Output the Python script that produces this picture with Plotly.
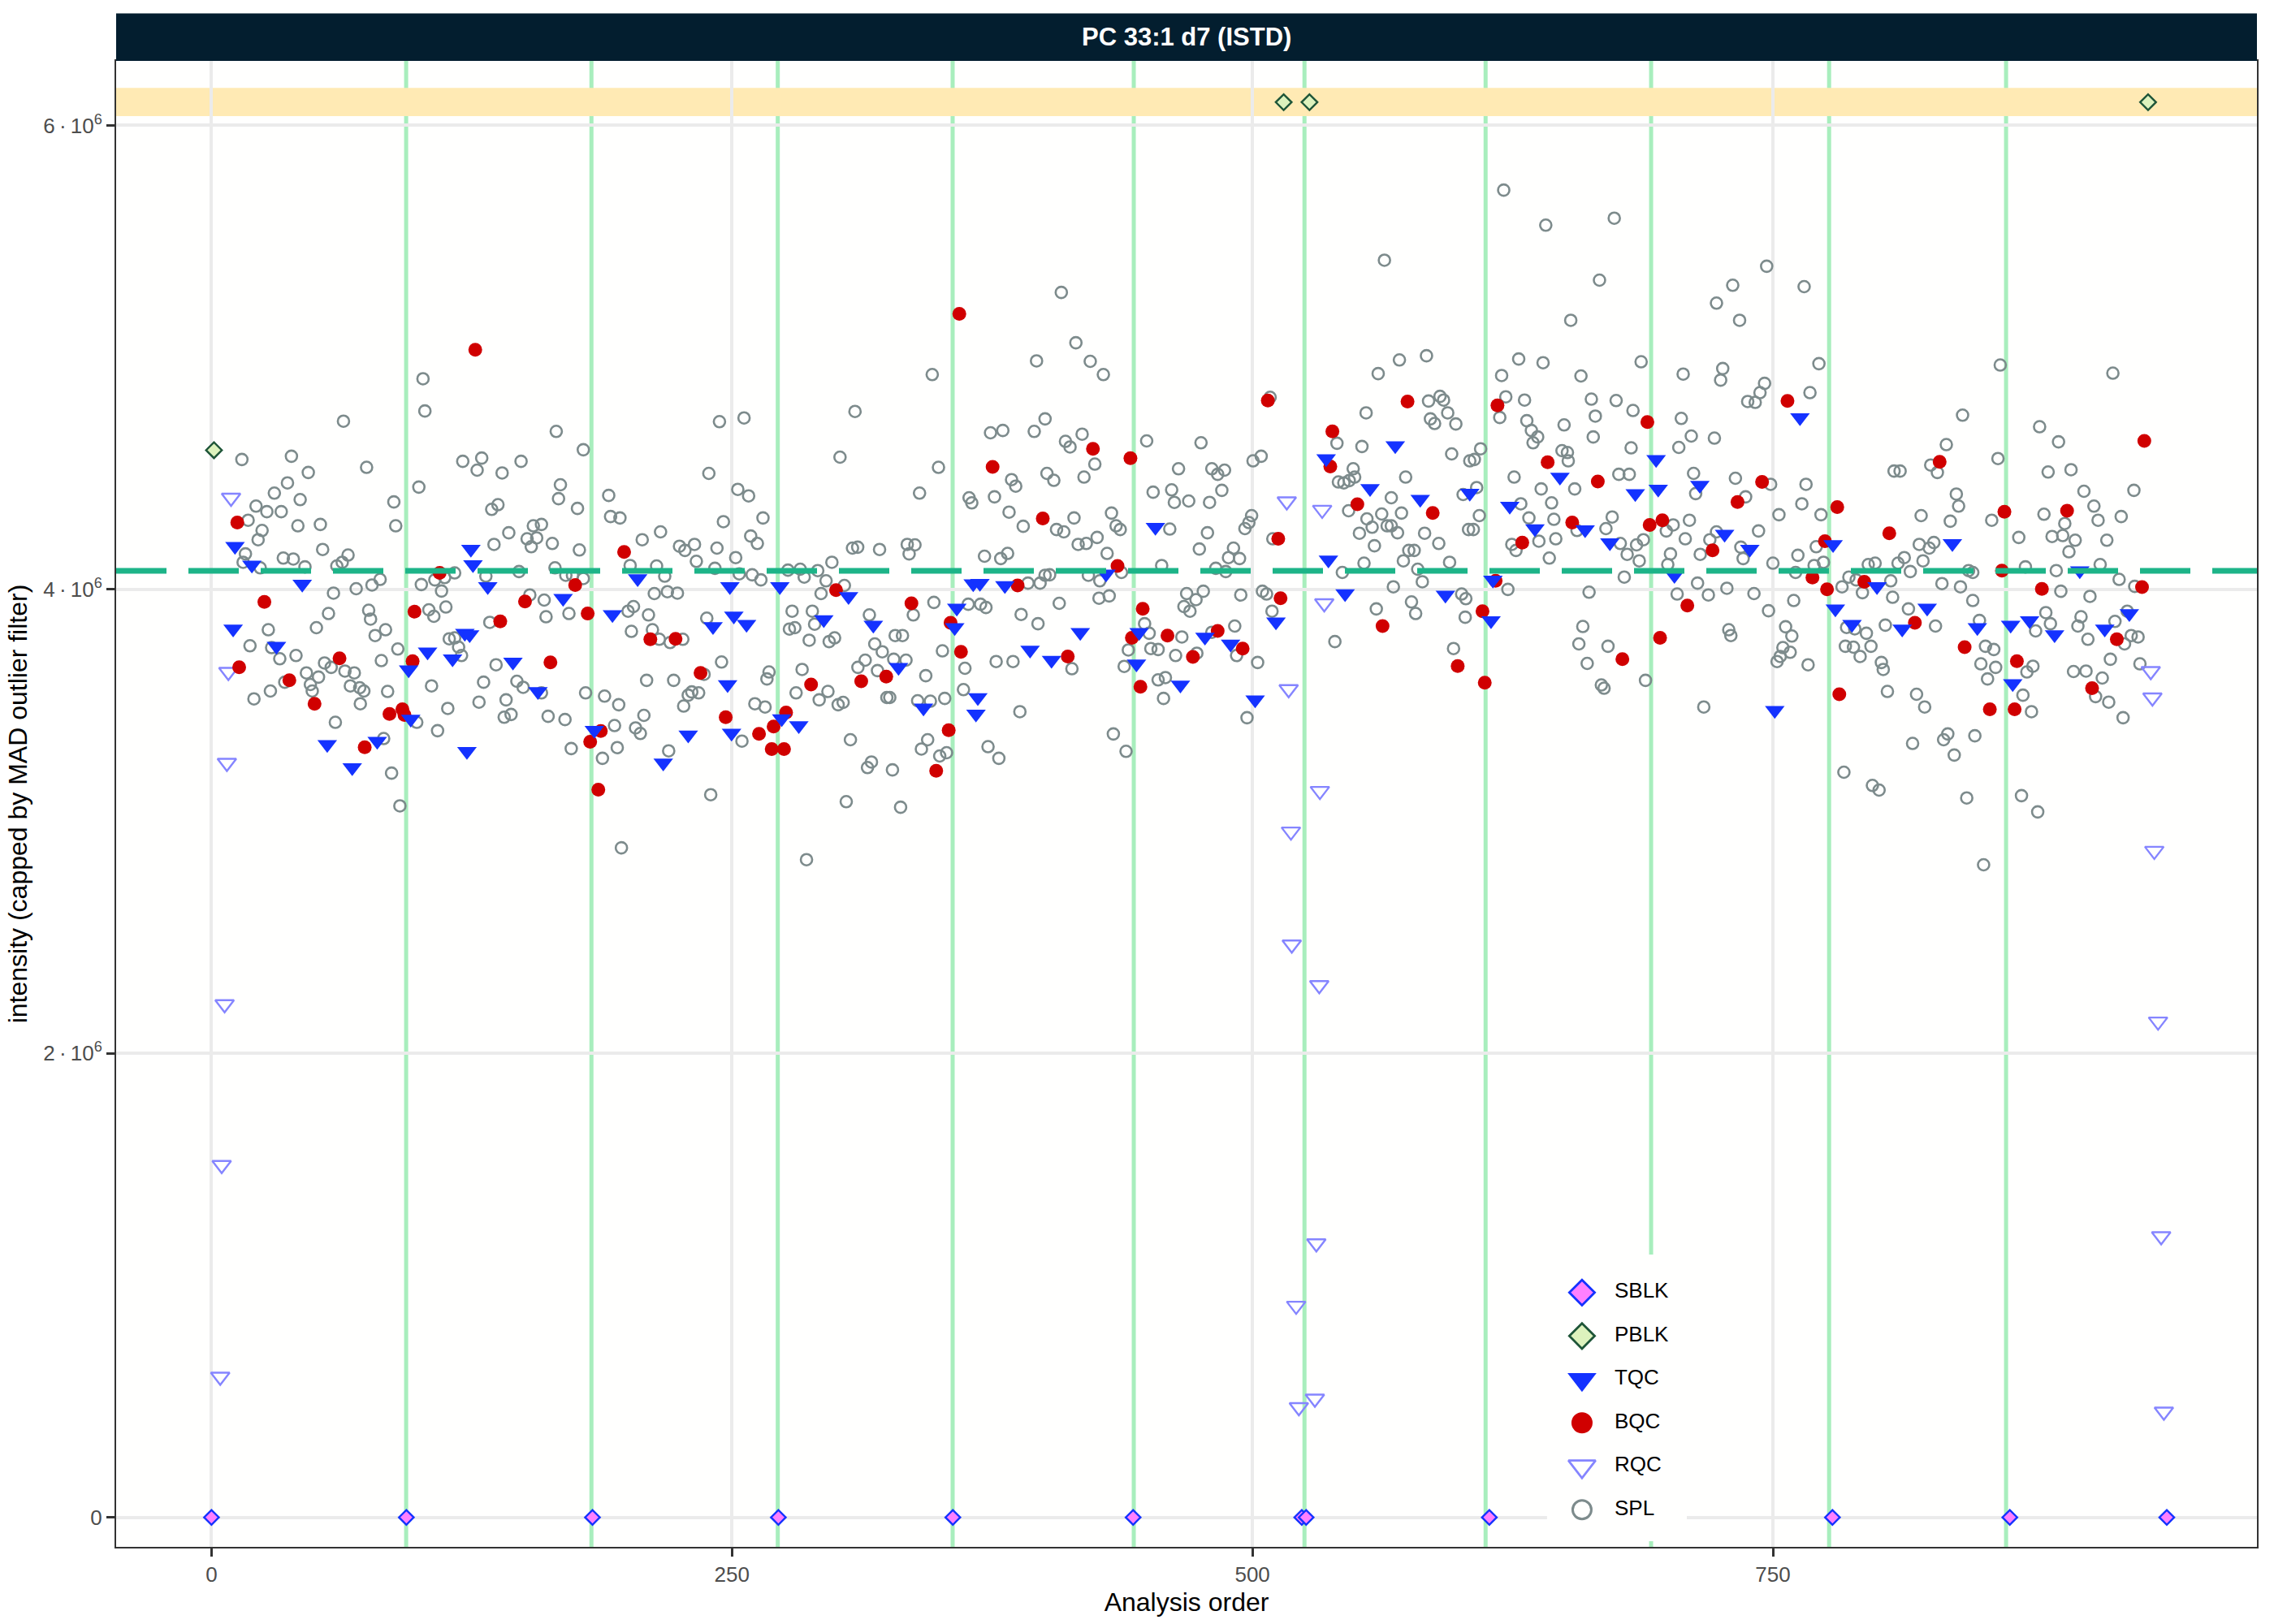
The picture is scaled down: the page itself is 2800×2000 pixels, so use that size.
import numpy as np
import plotly.graph_objects as go

# intensities are written in millions and scaled once below
MILLION = 1e6

spl_x = [
    14.6, 38.4, 46.5, 63.4, 74.5, 36.5, 30.2, 42.6, 21.4, 26.6, 33.5, 17.6, 24.3, 22.4, 41.5, 52.3,
    53.4, 65.6, 16.3, 15.2, 23.4, 34.5, 39.3, 44.9, 60.2, 62.8, 58.6, 69.5, 77.1, 81.0, 75.5, 76.4,
    56.2, 50.4, 27.3, 18.5, 28.9, 32.8, 40.6, 83.6, 78.6, 81.6, 89.5, 87.6, 88.5, 99.6, 101.6, 102.5,
    54.3, 57.5, 45.6, 51.4, 47.5, 48.4, 35.2, 28.3, 20.4, 64.1, 68.6, 66.7, 71.2, 73.2, 71.5, 59.5,
    84.6, 82.7, 86.5, 90.5, 98.6, 105.7, 108.6, 113.5, 100.8, 107.3, 112.0, 116.8, 110.5, 104.4, 106.8, 112.6,
    114.2, 116.8, 118.7, 120.1, 120.7, 127.6, 129.8, 139.6, 148.7, 134.6, 137.6, 135.7, 142.8, 131.8, 147.7, 151.6,
    154.6, 158.5, 156.2, 153.6, 163.7, 165.6, 167.6, 166.7, 175.8, 178.6, 176.7, 165.0, 170.2, 173.4, 178.6, 152.9,
    159.8, 160.7, 171.7, 133.7, 136.7, 130.7, 128.5, 141.5, 140.6, 143.9, 146.7, 149.7, 158.5, 161.7, 169.8, 172.8,
    179.7, 188.8, 195.6, 193.6, 194.9, 187.8, 190.8, 191.7, 196.2, 196.9,
    206.9, 215.7, 224.8, 227.4, 232.0, 232.9, 242.8, 245.9, 238.9, 244.0, 255.8, 252.8, 258.0, 264.9, 259.0, 262.2,
    251.8, 241.8, 253.5, 259.7, 263.9, 276.9, 282.8, 284.7, 291.2, 295.2, 298.0, 292.8, 304.0, 201.1, 213.8, 217.7,
    212.7, 219.0, 223.8, 202.7, 200.1, 209.9, 201.7, 211.8, 215.1, 220.3, 226.4, 237.9, 245.0, 236.6, 234.0, 230.7,
    229.0, 226.8, 222.0, 209.0, 207.7, 203.7, 206.0, 219.6, 239.8, 254.8, 261.0, 265.9, 266.8, 267.8, 278.9, 277.6,
    280.2, 288.6, 289.7, 287.1, 296.7, 299.3, 283.7, 280.8, 291.9, 296.1, 301.0, 303.4, 285.8, 306.9, 304.9, 315.1,
    317.0, 327.1, 331.0, 325.8, 324.4, 310.5, 314.0, 319.9, 322.2, 318.6, 316.0, 328.4, 331.9, 333.6, 327.7, 337.1,
    347.0, 343.1, 339.2, 345.3, 352.2, 351.1, 344.0, 341.0, 349.8, 353.1, 361.2, 361.9, 363.5, 369.4, 372.0, 373.0,
    378.2, 376.9, 385.0, 388.3, 388.9, 397.0, 392.2, 398.0, 400.4, 301.9, 309.1, 307.9, 310.4, 320.9, 334.2, 337.9,
    335.1, 340.1, 346.2, 349.2, 363.9, 365.2, 374.2, 380.1, 376.1, 384.3, 386.3, 383.1, 389.9, 371.3, 379.1, 382.4,
    396.3, 395.2, 400.4, 401.3,
    408.2, 415.2, 422.1, 428.4, 410.2, 412.4, 418.2, 424.3, 419.1, 404.6, 414.3, 405.9, 409.4, 416.3, 420.2, 425.4,
    432.3, 434.5, 436.5, 430.2, 421.2, 426.7, 402.6, 437.1, 426.3, 431.2, 407.2, 413.3, 433.2, 439.3, 438.4, 440.4,
    448.2, 450.4, 451.2, 454.7, 454.7, 458.2, 457.3, 463.1, 466.1, 467.1, 470.0, 468.4, 472.9, 476.4, 473.3, 480.5,
    491.5, 492.4, 502.5, 497.4, 494.4, 504.8, 506.8, 509.4, 449.2, 452.3, 461.2, 462.5, 469.4, 464.5, 475.3, 480.5,
    483.3, 486.6, 485.3, 479.4, 460.3, 456.4, 474.5, 478.4, 482.4, 487.2, 488.5, 490.9, 493.8, 496.4, 498.3, 499.6,
    500.3, 504.2, 508.5, 509.8, 539.6, 540.6, 543.2, 541.3, 543.9, 546.5, 548.4, 549.1, 546.2, 552.6, 554.6, 560.4,
    563.4, 570.6, 583.6, 584.6, 590.1, 591.8, 593.8, 597.7, 585.5, 587.5, 595.7, 573.6, 566.7, 562.1, 555.0, 557.5,
    551.4, 558.6, 564.7, 566.7, 569.7, 571.6, 582.7, 589.5, 572.5, 575.1, 577.7, 579.4, 581.6, 553.6, 567.7, 559.5,
    576.4, 578.4, 594.7, 600.5, 602.5, 602.2, 596.6, 601.2, 603.8, 604.4,
    620.7, 640.9, 673.8, 666.7, 652.9, 747.0, 765.0, 730.7, 722.9, 734.0, 627.9, 639.6, 619.7, 657.8, 686.7, 706.9,
    725.9, 724.9, 772.1, 746.0, 743.8, 741.5, 737.9, 767.8, 621.7, 618.8, 630.7, 631.8, 634.0, 637.0, 634.8, 649.7,
    662.8, 664.7, 663.7, 674.7, 682.8, 681.9, 706.0, 710.8, 704.8, 721.9, 609.6, 606.6, 607.7, 609.0, 606.1, 625.7,
    648.7, 651.3, 651.7, 638.7, 643.7, 628.9, 632.8, 644.8, 637.6, 645.7, 624.6, 626.6, 642.6, 654.8, 655.9, 669.8,
    672.8, 676.0, 681.0, 676.7, 680.0, 684.5, 687.8, 685.8, 678.6, 622.7, 661.7, 658.7, 656.8, 660.8, 670.8, 667.6,
    668.9, 688.8, 716.8, 698.8, 702.1, 709.9, 700.8, 699.5, 707.9, 711.9, 712.9, 704.0, 713.8, 715.1, 719.7, 722.9,
    719.0, 727.9, 732.0, 736.9, 734.6, 735.7, 743.1, 748.9, 752.9, 750.0, 740.9, 728.8, 729.8, 747.9, 756.1, 759.1,
    754.8, 758.3, 753.5, 752.0, 766.9, 760.0, 760.9, 762.0, 763.9, 765.9, 773.1, 770.8, 769.8, 774.3, 783.2, 786.5,
    790.0, 793.0, 795.8, 799.1, 806.6, 807.5, 804.0, 785.4, 789.3, 794.9, 784.8, 788.7, 797.1, 791.9, 802.1, 803.0,
    805.0, 784.1, 797.8, 801.0, 808.2,
    811.1, 825.8, 829.0, 833.3, 841.1, 838.1, 839.2, 835.2, 821.2, 820.3, 825.1, 827.3, 822.1, 813.1, 810.1, 816.0,
    815.1, 828.1, 831.2, 840.1, 844.0, 846.0, 846.0, 849.2, 852.1, 856.1, 849.9, 857.0, 853.1, 819.0, 822.9, 817.1,
    832.0, 834.0, 837.1, 847.0, 843.1, 851.2, 869.4, 877.2, 859.2, 858.1, 855.1, 868.1, 871.3, 878.1, 887.2, 882.2,
    893.2, 899.4, 904.2, 906.2, 880.2, 890.2, 884.1, 889.2, 895.2, 892.2, 886.1, 888.3, 907.2, 910.4, 913.3, 917.3,
    923.4, 916.3, 923.8, 902.3, 881.1, 883.3, 876.2, 874.9, 872.0, 870.1, 874.2, 898.0, 896.5, 901.3, 914.3, 920.2,
    918.9, 922.1, 925.4, 912.1, 926.3, 894.4, 900.4, 908.2, 905.0, 911.3, 918.2,
]
spl_y = [
    4.560, 4.574, 4.504, 4.725, 4.526, 4.459, 4.415, 4.387, 4.359, 4.335, 4.335, 4.298, 4.254, 4.214, 4.274, 4.280,
    4.172, 4.148, 4.153, 4.117, 4.093, 4.135, 4.131, 4.097, 4.101, 4.117, 3.984, 4.003, 4.019, 4.043, 3.910, 3.872,
    3.896, 3.835, 3.826, 3.757, 3.749, 3.701, 3.715, 3.826, 3.801, 3.693, 3.743, 4.377, 4.274, 4.441, 4.908, 4.769,
    3.683, 3.664, 3.640, 3.622, 3.590, 3.562, 3.600, 3.562, 3.528, 3.648, 3.640, 3.584, 3.576, 3.562, 3.507, 3.427,
    3.560, 3.357, 3.208, 3.067, 3.427, 3.584, 3.391, 3.487, 4.021, 4.041, 4.051, 4.071, 3.993, 3.912, 3.884, 3.924,
    3.787, 3.791, 3.751, 3.715, 4.552, 4.514, 4.566, 4.502, 4.552, 4.345, 4.365, 4.194, 4.244, 4.057, 4.077, 4.218,
    4.274, 4.280, 4.222, 4.184, 4.198, 4.681, 4.451, 4.391, 4.349, 4.602, 4.170, 4.093, 4.061, 4.061, 4.047, 3.976,
    3.954, 3.882, 3.896, 3.858, 3.675, 3.600, 3.514, 3.524, 3.449, 3.461, 3.604, 3.578, 3.554, 3.453, 3.439, 3.314,
    3.554, 3.540, 3.503, 3.413, 3.318, 3.272, 4.405, 4.314, 4.308, 2.886,
    4.214, 4.248, 4.186, 4.168, 4.194, 4.121, 4.178, 4.292, 4.500, 4.723, 4.739, 4.431, 4.403, 4.308, 4.230, 4.198,
    4.137, 4.091, 4.067, 4.063, 4.041, 4.083, 4.087, 4.053, 4.081, 4.037, 4.117, 3.982, 4.017, 4.103, 4.101, 4.057,
    3.982, 3.990, 3.984, 3.926, 3.906, 3.890, 3.819, 3.826, 3.785, 3.771, 3.785, 3.876, 3.687, 3.634, 3.554, 3.558,
    3.544, 3.497, 3.608, 3.608, 3.457, 3.403, 3.379, 3.304, 3.115, 3.346, 3.507, 3.493, 3.614, 3.644, 3.906, 3.829,
    3.835, 3.906, 3.850, 3.781, 3.775, 3.791, 3.655, 3.554, 3.524, 3.560, 3.503, 3.513, 2.835, 3.352, 3.085, 3.232,
    3.256, 3.222, 3.061, 3.534, 3.534, 3.664, 3.695, 3.650, 3.731, 3.765, 3.890, 3.801, 3.801, 3.695, 3.699, 3.890,
    3.944, 3.628, 3.520, 3.518, 3.530, 3.735, 3.352, 3.312, 3.282, 3.296, 3.568, 3.660, 3.936, 3.936, 3.922, 3.322,
    3.272, 3.689, 3.689, 3.473, 3.892, 3.852, 4.027, 4.027, 4.061, 4.570, 4.767, 4.178, 4.182, 4.172, 4.194, 4.192,
    4.153, 4.415, 4.926, 4.526, 4.395, 4.373, 4.675, 4.685, 4.399, 4.473, 4.445, 4.333, 4.272, 4.143, 4.133, 4.155,
    4.985, 4.681, 4.735, 4.500,
    5.280, 5.063, 4.983, 4.926, 4.638, 4.614, 4.669, 4.540, 4.484, 4.470, 4.308, 4.258, 4.248, 4.194, 4.198, 4.224,
    4.329, 4.274, 4.258, 4.155, 4.061, 4.037, 4.063, 4.073, 3.962, 3.972, 3.940, 3.658, 3.377, 3.302, 3.668, 3.739,
    3.852, 3.811, 3.745, 3.741, 3.610, 3.620, 3.530, 3.715, 3.795, 3.926, 3.906, 3.982, 3.956, 3.992, 3.725, 3.815,
    3.842, 3.715, 3.685, 3.447, 3.976, 3.992, 3.980, 3.906, 4.640, 4.419, 4.429, 4.375, 4.381, 4.520, 4.632, 4.520,
    4.496, 4.514, 4.427, 4.375, 4.260, 4.103, 4.174, 4.244, 4.091, 4.077, 4.137, 4.178, 4.133, 4.262, 4.288, 4.318,
    4.554, 4.574, 4.828, 4.218, 3.775, 4.630, 4.073, 4.463, 4.459, 4.469, 4.520, 4.484, 4.339, 4.616, 4.761, 4.930,
    5.419, 4.989, 5.007, 4.812, 4.832, 4.816, 4.761, 4.713, 4.735, 4.715, 4.584, 4.484, 4.395, 4.325, 4.304, 4.268,
    4.242, 4.188, 4.274, 4.274, 4.244, 4.329, 4.242, 4.198, 4.123, 4.168, 4.168, 4.087, 4.033, 4.113, 4.011, 3.916,
    3.946, 3.896, 4.117, 3.980, 3.960, 3.880, 3.745, 4.409, 4.258, 4.554,
    5.721, 5.570, 5.600, 5.333, 5.160, 5.393, 5.305, 5.311, 5.234, 5.160, 4.993, 4.977, 4.922, 4.920, 4.981, 4.928,
    4.952, 4.902, 4.973, 4.888, 4.848, 4.806, 4.810, 4.848, 4.830, 4.741, 4.816, 4.727, 4.685, 4.657, 4.632, 4.709,
    4.820, 4.747, 4.657, 4.814, 4.771, 4.610, 4.737, 4.661, 4.612, 4.652, 4.606, 4.560, 4.439, 4.318, 4.258, 4.484,
    4.598, 4.590, 4.554, 4.433, 4.373, 4.369, 4.308, 4.302, 4.208, 4.218, 4.194, 4.168, 4.135, 4.433, 4.254, 4.262,
    4.312, 4.496, 4.496, 4.198, 4.151, 4.192, 4.214, 4.123, 4.053, 4.000, 3.988, 3.840, 3.765, 3.681, 3.755, 3.588,
    3.574, 3.608, 3.493, 4.252, 4.278, 4.298, 4.153, 4.107, 4.218, 4.500, 4.413, 3.980, 4.027, 4.151, 4.214, 4.248,
    3.976, 4.005, 4.479, 4.399, 4.182, 4.133, 4.252, 4.453, 4.322, 4.113, 3.982, 3.826, 3.801, 3.908, 3.839, 3.799,
    3.749, 3.729, 3.711, 3.689, 3.675, 3.952, 4.073, 4.147, 4.369, 4.453, 4.322, 4.184, 4.103, 4.117, 4.011, 4.053,
    4.041, 3.986, 4.107, 4.113, 4.037, 3.966, 3.846, 3.836, 3.830, 3.811, 3.755, 3.751, 3.755, 3.711, 3.685, 3.655,
    3.560, 3.212, 3.155, 3.135, 4.510,
    4.510, 4.536, 4.504, 4.624, 4.751, 4.411, 4.359, 4.294, 4.318, 4.194, 4.178, 4.202, 4.123, 4.137, 4.113, 4.077,
    3.916, 3.842, 4.025, 4.011, 4.081, 4.073, 3.952, 3.866, 3.755, 3.741, 3.679, 3.664, 3.614, 3.548, 3.493, 3.336,
    3.352, 3.377, 3.286, 3.369, 3.101, 2.813, 3.111, 3.041, 4.967, 4.564, 4.298, 4.224, 4.097, 4.701, 4.636, 4.506,
    4.516, 4.423, 4.359, 4.298, 4.324, 4.284, 4.228, 4.232, 4.212, 4.162, 4.081, 3.992, 4.107, 4.212, 4.932, 4.314,
    4.427, 4.043, 4.013, 3.970, 3.900, 3.852, 3.821, 3.669, 3.644, 3.544, 3.473, 3.882, 3.842, 3.785, 3.862, 3.906,
    3.765, 3.801, 3.795, 3.699, 3.679, 3.646, 3.648, 3.618, 3.538, 3.514, 3.447,
]

rqc_x = [9.4, 8.1, 7.4, 6.3, 4.9, 4.2,
         516.5, 517.4, 518.5, 518.9, 521.0, 522.3, 533.5, 534.5, 532.4, 532.1, 530.7, 530.0,
         931.5, 932.3, 933.2, 935.0, 936.5, 937.8]
rqc_y = [4.395, 3.644, 3.252, 2.212, 1.519, 0.606,
         4.379, 3.570, 2.956, 2.469, 0.912, 0.475, 4.343, 3.940, 3.131, 2.294, 1.181, 0.512,
         3.648, 3.534, 2.873, 2.137, 1.212, 0.456]

bqc_x = [
    12.4, 25.4, 13.3, 37.4, 49.5, 61.5, 73.6, 85.5, 91.7, 92.7, 96.6, 97.5, 109.6, 126.7, 138.7, 150.6,
    162.8, 174.7, 180.7, 181.9, 187.0, 185.8, 198.2,
    210.8, 222.9, 234.9, 247.0, 263.0, 269.1, 270.0, 275.0, 276.0, 288.0, 300.0, 312.1, 324.1, 336.2, 355.0, 354.1,
    348.1, 359.2, 360.0, 375.2, 387.2, 399.3,
    423.4, 441.4, 435.2, 411.3, 447.3, 442.1, 446.2, 459.2, 471.4, 483.3, 495.3, 507.4, 512.4, 513.5, 538.4, 537.4,
    550.4, 574.5, 586.6, 562.5, 598.6,
    617.7, 616.8, 610.5, 611.6, 629.6, 641.8, 653.6, 665.9, 677.7, 689.7, 690.8, 696.9, 695.8, 708.9, 721.0, 733.0,
    744.8, 757.0, 769.0, 775.0, 776.0, 780.9, 781.9, 793.9, 805.9,
    818.2, 830.1, 842.1, 854.2, 861.2, 860.0, 866.1, 867.2, 879.2, 891.3, 903.3, 915.2, 927.3, 928.4,
]
bqc_y = [
    4.288, 3.946, 3.664, 3.608, 3.507, 3.703, 3.320, 3.463, 3.483, 3.459, 3.691, 3.904, 4.071, 5.033, 3.862, 3.948,
    3.685, 4.019, 3.896, 3.343, 3.390, 3.137, 4.161,
    3.785, 3.787, 3.640, 3.449, 3.377, 3.312, 3.409, 3.312, 3.469, 3.590, 3.997, 3.604, 3.624, 3.940, 3.856, 3.393,
    3.218, 5.188, 3.731, 4.528, 4.017, 4.306,
    4.606, 4.566, 4.101, 3.711, 3.916, 3.791, 3.580, 3.801, 3.709, 3.821, 3.745, 4.814, 4.218, 3.962, 4.681, 4.530,
    4.367, 4.810, 4.329, 3.842, 3.670,
    4.793, 4.037, 3.906, 3.598, 4.202, 4.548, 4.288, 4.465, 3.699, 4.721, 4.278, 4.298, 3.791, 3.930, 4.168, 4.377,
    4.463, 4.812, 4.051, 4.208, 4.000, 4.355, 3.548, 4.033, 4.242,
    3.856, 4.550, 3.751, 3.483, 4.335, 4.081, 3.483, 3.691, 4.002, 4.339, 3.574, 3.785, 4.010, 4.640,
]

tqc_x = [
    11.3, 19.4, 10.4, 31.2, 43.6, 55.6, 67.6, 79.6, 94.7, 95.7, 103.8, 115.8, 121.7, 124.0, 122.7, 124.6,
    125.6, 132.7, 144.8, 156.8, 168.9, 183.9, 192.6,
    204.7, 217.0, 229.0, 240.9, 249.0, 250.9, 257.0, 247.9, 249.8, 273.0, 273.9, 282.1, 294.1, 306.0, 317.9, 330.0,
    342.0, 358.0, 357.0, 365.9, 369.1, 368.1, 367.2, 381.1, 393.2, 403.5,
    417.3, 429.7, 453.4, 445.6, 444.3, 465.4, 477.2, 489.5, 501.3, 511.3, 536.5, 535.4, 544.5, 556.5, 568.6, 580.6,
    592.7, 604.4,
    615.5, 614.6, 623.6, 635.7, 647.7, 659.8, 671.7, 683.9, 693.9, 694.9, 702.7, 714.9, 726.8, 738.9, 750.9, 763.0,
    778.9, 780.0, 788.0, 800.0,
    812.1, 824.1, 836.2, 848.2, 864.2, 865.2, 873.3, 885.3, 897.4, 909.4, 921.2,
]
tqc_y = [
    4.186, 4.105, 3.830, 3.755, 4.023, 3.332, 3.232, 3.346, 3.654, 3.441, 3.731, 3.701, 3.811, 3.805, 3.302, 4.174,
    4.107, 4.013, 3.687, 3.560, 3.962, 3.393, 3.892,
    4.047, 3.252, 3.373, 3.840, 4.013, 3.886, 3.850, 3.590, 3.381, 4.013, 3.443, 3.413, 3.870, 3.970, 3.846, 3.664,
    3.489, 3.920, 3.836, 4.025, 4.027, 3.534, 3.463, 4.017, 3.739, 3.695,
    3.815, 4.067, 4.268, 3.815, 3.679, 3.588, 3.795, 3.765, 3.524, 3.860, 4.127, 4.564, 3.982, 4.435, 4.620, 4.389,
    3.976, 4.415,
    4.041, 3.866, 4.359, 4.262, 4.484, 4.258, 4.202, 4.413, 4.560, 4.433, 4.061, 4.449, 4.238, 4.174, 3.479, 4.741,
    4.194, 3.916, 3.850, 4.013,
    3.830, 3.920, 4.198, 3.836, 3.846, 3.594, 3.866, 3.805, 4.081, 3.830, 3.896,
]

pblk_x = [1.2, 515.0, 527.4, 930.2]
pblk_y = [4.600, 6.100, 6.100, 6.100]

sblk_x = [0.0, 93.6, 183.0, 272.3, 356.1, 442.7, 523.7, 525.8, 613.8, 778.6, 863.8, 939.2]
sblk_y = [0.0] * len(sblk_x)

# batch boundaries (green verticals), median line and cap band
batch_breaks = [93.5, 182.5, 272.0, 356.0, 443.0, 525.0, 612.0, 691.5, 777.0, 862.0]
median_intensity = 4.08
cap_band = (6.04, 6.162)

y_ticks = [0, 2, 4, 6]
y_tick_text = ["0", "2\u2009·\u200910<sup>6</sup>", "4\u2009·\u200910<sup>6</sup>", "6\u2009·\u200910<sup>6</sup>"]
x_ticks = [0, 250, 500, 750]

legend_order = ["SBLK", "PBLK", "TQC", "BQC", "RQC", "SPL"]

FONT = "Liberation Sans, Arial, sans-serif"
X_RANGE = [-45.8, 982.5]
Y_RANGE = [-0.127 * MILLION, 6.278 * MILLION]

# sample-type styling: plot marker, enlarged legend key marker
STYLE = {
    "SPL": (dict(symbol="circle-open", size=14, color="#7d8b8c", line=dict(width=2.6)),
            dict(symbol="circle-open", size=23, color="#7d8b8c", line=dict(width=3))),
    "RQC": (dict(symbol="triangle-down-open", size=20, color="#8585ff", line=dict(width=2.4)),
            dict(symbol="triangle-down-open", size=29, color="#8585ff", line=dict(width=2.8))),
    "BQC": (dict(symbol="circle", size=17, color="#d00000", line=dict(width=0)),
            dict(symbol="circle", size=26, color="#d00000", line=dict(width=0))),
    "TQC": (dict(symbol="triangle-down", size=21, color="#1432ff", line=dict(width=0)),
            dict(symbol="triangle-down", size=31, color="#1432ff", line=dict(width=0))),
    "PBLK": (dict(symbol="diamond", size=15, color="#ddf2bd", line=dict(width=2.4, color="#1e5538")),
             dict(symbol="diamond", size=24, color="#ddf2bd", line=dict(width=2.8, color="#1e5538"))),
    "SBLK": (dict(symbol="diamond", size=14, color="#ff80ff", line=dict(width=2.4, color="#1432ff")),
             dict(symbol="diamond", size=24, color="#ff80ff", line=dict(width=2.8, color="#1432ff"))),
}


def scaled(values):
    return np.asarray(values) * MILLION


fig = go.Figure()

# cap band and batch lines sit between the grid and the points
for xb in batch_breaks:
    fig.add_shape(type="line", xref="x", yref="paper", x0=xb, x1=xb, y0=0, y1=1,
                  line=dict(color="#a8eebd", width=5), layer="between")
fig.add_shape(type="rect", xref="paper", yref="y", x0=0, x1=1,
              y0=cap_band[0] * MILLION, y1=cap_band[1] * MILLION,
              fillcolor="#ffeab4", line=dict(width=0), layer="between")

series = [
    ("SPL", spl_x, spl_y),
    ("RQC", rqc_x, rqc_y),
    ("BQC", bqc_x, bqc_y),
    ("TQC", tqc_x, tqc_y),
    ("PBLK", pblk_x, pblk_y),
    ("SBLK", sblk_x, sblk_y),
]
for name, xs, ys in series:
    fig.add_trace(go.Scatter(x=xs, y=scaled(ys), mode="markers", name=name,
                             marker=STYLE[name][0], showlegend=False))
    if name == "TQC":
        # median reference line drawn over the QC markers
        fig.add_trace(go.Scatter(x=X_RANGE, y=[median_intensity * MILLION] * 2, mode="lines",
                                 line=dict(color="#1db488", width=7, dash="62px,27px"),
                                 showlegend=False, hoverinfo="skip"))

# legend drawn as a small inset subplot (white background hides what is beneath)
for name in legend_order:
    fig.add_trace(go.Scatter(x=[0], y=[name], mode="markers", marker=STYLE[name][1],
                             xaxis="x2", yaxis="y2", showlegend=False, hoverinfo="skip"))
fig.add_trace(go.Scatter(x=[0.93] * len(legend_order), y=legend_order, text=legend_order,
                         mode="text", textposition="middle right",
                         textfont=dict(family=FONT, size=26, color="black"),
                         xaxis="x2", yaxis="y2", showlegend=False, hoverinfo="skip"))

# facet strip
fig.add_shape(type="rect", xref="paper", yref="paper", x0=0, x1=1, y0=1.0, y1=1.0319,
              fillcolor="#031e2f", line=dict(width=0))
fig.add_annotation(text="<b>PC 33:1 d7 (ISTD)</b>", xref="paper", yref="paper", x=0.5, y=1.016,
                   xanchor="center", yanchor="middle", showarrow=False,
                   font=dict(family=FONT, size=31, color="white"))

axis_common = dict(showline=True, mirror=True, linecolor="#333333", linewidth=2,
                   showgrid=True, gridcolor="#ebebeb", gridwidth=3.5, zeroline=False,
                   ticks="outside", ticklen=10, tickwidth=3, tickcolor="#333333",
                   tickfont=dict(family=FONT, size=26, color="#4d4d4d"))

fig.update_xaxes(range=X_RANGE, tickvals=x_ticks, title=dict(text="Analysis order", standoff=8,
                 font=dict(family=FONT, size=32, color="black")), **axis_common)
fig.update_yaxes(range=Y_RANGE, tickvals=scaled(y_ticks), ticktext=y_tick_text,
                 title=dict(text="intensity (capped by MAD outlier filter)", standoff=10,
                            font=dict(family=FONT, size=32, color="black")), **axis_common)

fig.update_layout(
    width=2800, height=2000,
    margin=dict(l=143, r=21, t=75, b=95),
    paper_bgcolor="#ffffff", plot_bgcolor="#fffffe",
    font=dict(family=FONT, color="black"),
    showlegend=False,
    xaxis2=dict(domain=[0.6684, 0.7337], anchor="y2", range=[-1, 3], visible=False, fixedrange=True),
    yaxis2=dict(domain=[0.0038, 0.1967], anchor="x2", type="category",
                categoryorder="array", categoryarray=legend_order,
                range=[5.725, -0.875], visible=False, fixedrange=True),
)

fig.write_html("out.html", config={"displayModeBar": False},
               post_script="document.body.style.margin='0px';")
